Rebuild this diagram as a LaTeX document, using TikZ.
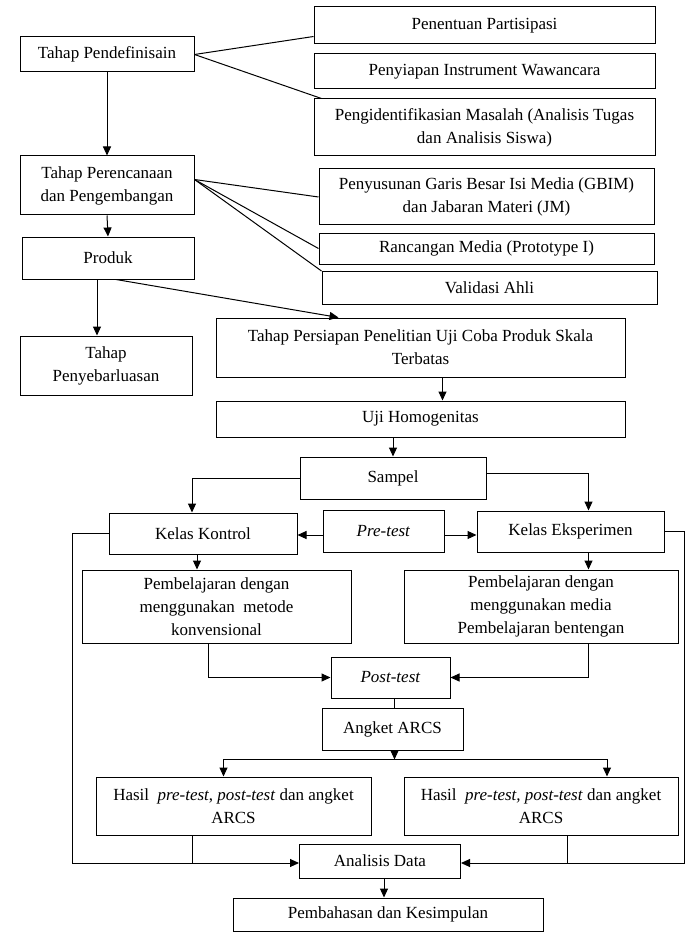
\documentclass[tikz,border=0pt]{standalone}
\usepackage{fontspec}
\setmainfont{Liberation Serif}
\usetikzlibrary{arrows.meta,positioning,calc}

\begin{document}
\begin{tikzpicture}[x=1pt,y=-1pt,
    box/.style={draw, line width=1pt, align=center, inner sep=2pt,
      font=\fontsize{17}{23}\selectfont},
    conn/.style={line width=1pt},
    arr/.style={line width=1pt, -{Triangle[length=9pt,width=8pt]}}]
  \useasboundingbox (0,0) rectangle (685,933);

  % tahap pendefinisian
  \node[box, minimum width=174pt, minimum height=35pt] (pendef) at (107,54.5) {Tahap Pendefinisain};
  \node[box, minimum width=341pt, minimum height=37pt] (penentuan) at (484.5,25.5) {Penentuan Partisipasi};
  \node[box, minimum width=341pt, minimum height=35pt] (penyiapan) at (484.5,71.5) {Penyiapan Instrument Wawancara};
  \node[box, minimum width=341pt, minimum height=57pt] (identifikasi) at (484.5,127.5)
    {Pengidentifikasian Masalah (Analisis Tugas\\dan Analisis Siswa)};

  % tahap perencanaan
  \node[box, minimum width=174pt, minimum height=59pt] (perencanaan) at (107,185.5)
    {Tahap Perencanaan\\dan Pengembangan};
  \node[box, minimum width=335pt, minimum height=56pt] (gbim) at (486.5,197)
    {Penyusunan Garis Besar Isi Media (GBIM)\\dan Jabaran Materi (JM)};
  \node[box, minimum width=335pt, minimum height=31pt] (rancangan) at (486.5,248.5) {Rancangan Media (Prototype I)};
  \node[box, minimum width=335pt, minimum height=33pt] (validasi) at (489.5,288) {Validasi Ahli};
  \node[box, minimum width=172pt, minimum height=42pt] (produk) at (108,258) {Produk};
  \node[box, minimum width=172pt, minimum height=59pt] (sebar) at (106,365.5) {Tahap\\Penyebarluasan};

  % uji coba
  \node[box, minimum width=409pt, minimum height=59pt] (persiapan) at (420.5,347.5)
    {Tahap Persiapan Penelitian Uji Coba Produk Skala\\Terbatas};
  \node[box, minimum width=409pt, minimum height=36pt] (homogen) at (420.5,419) {Uji Homogenitas};
  \node[box, minimum width=186pt, minimum height=42pt] (sampel) at (393,478) {Sampel};
  \node[box, minimum width=188pt, minimum height=41pt] (kontrol) at (203,533.5) {Kelas Kontrol};
  \node[box, minimum width=121pt, minimum height=42pt] (pretest) at (383.5,531) {\textit{Pre-test}};
  \node[box, minimum width=187pt, minimum height=41pt] (eksperimen) at (570.5,531.5) {Kelas Eksperimen};
  \node[box, minimum width=269pt, minimum height=73pt] (ajarkontrol) at (216.5,606.5)
    {Pembelajaran dengan\\menggunakan\ \ metode\\konvensional};
  \node[box, minimum width=274pt, minimum height=73pt] (ajareksp) at (541,606.5)
    {Pembelajaran dengan\\menggunakan media\\Pembelajaran bentengan};
  \node[box, minimum width=119pt, minimum height=41pt] (posttest) at (390.5,677.5) {\textit{Post-test}};
  \node[box, minimum width=141pt, minimum height=42pt] (angket) at (392.5,729) {Angket ARCS};
  \node[box, minimum width=275pt, minimum height=58pt] (hasilkontrol) at (233.5,806)
    {Hasil\ \ \textit{pre-test}, \textit{post-test} dan angket\\ARCS};
  \node[box, minimum width=274pt, minimum height=58pt] (hasileksp) at (541,806)
    {Hasil\ \ \textit{pre-test, post-test} dan angket\\ARCS};
  \node[box, minimum width=161pt, minimum height=34pt] (analisis) at (380,861) {Analisis Data};
  \node[box, minimum width=310pt, minimum height=33pt] (bahas) at (388,914.5) {Pembahasan dan Kesimpulan};

  % garis atas
  \draw[arr] (pendef.south) -- (perencanaan.north);
  \draw[conn] (pendef.east) -- ([yshift=-11pt]penentuan.west);
  \draw[conn] (pendef.east) -- ([xshift=8pt]identifikasi.north west);
  \draw[conn] ([yshift=6pt]perencanaan.east) -- (gbim.west);
  \draw[conn] ([yshift=6pt]perencanaan.east) -- (rancangan.west);
  \draw[conn] ([yshift=6pt]perencanaan.east) -- (validasi.north west);
  \draw[arr] (perencanaan.south) -- (produk.north);
  \draw[arr] ([xshift=-11pt]produk.south) -- ([xshift=-11pt]produk.south |- sebar.north);
  \draw[arr] ([xshift=8pt]produk.south) -- ([xshift=-82pt]persiapan.north);

  % garis tengah
  \draw[arr] ([xshift=22pt]persiapan.south) -- ([xshift=22pt]homogen.north);
  \draw[arr] (sampel.north |- homogen.south) -- (sampel.north);
  \draw[arr] (sampel.west) -| ([xshift=-11pt]kontrol.north);
  \draw[arr] ([yshift=5pt]sampel.east) -| ([xshift=18pt]eksperimen.north);
  \draw[arr] ([yshift=-4pt]pretest.west) -- ([yshift=-4pt]pretest.west -| kontrol.east);
  \draw[arr] ([yshift=-4pt]pretest.east) -- ([yshift=-4pt]pretest.east -| eksperimen.west);
  \draw[arr] ([xshift=-6pt]kontrol.south) -- ([xshift=-6pt]kontrol.south |- ajarkontrol.north);
  \draw[arr] ([xshift=18pt]eksperimen.south) -- ([xshift=18pt]eksperimen.south |- ajareksp.north);
  \draw[arr] ([xshift=-8pt]ajarkontrol.south) |- (posttest.west);
  \draw[arr] ([xshift=47pt]ajareksp.south) |- (posttest.east);
  \draw[conn] ([xshift=4pt]posttest.south) -- ([xshift=4pt]posttest.south |- angket.north);

  % garis bawah
  \coordinate (cabang) at ([shift={(2,9)}]angket.south);
  \draw[arr] ([xshift=2pt]angket.south) -- (cabang);
  \draw[arr] (cabang) -| ([xshift=-10pt]hasilkontrol.north);
  \draw[arr] (cabang) -| ([xshift=66pt]hasileksp.north);
  \draw[arr] (kontrol.west) -- ++(-36,0) |- ([yshift=-2pt]analisis.west);
  \draw[arr] (eksperimen.east) -- ++(20,0) |- ([yshift=-2pt]analisis.east);
  \draw[conn] ([xshift=-41pt]hasilkontrol.south) -- ++(0,28);
  \draw[conn] ([xshift=26pt]hasileksp.south) -- ++(0,28);
  \draw[arr] ([xshift=4pt]analisis.south) -- ([xshift=4pt]analisis.south |- bahas.north);
\end{tikzpicture}
\end{document}
